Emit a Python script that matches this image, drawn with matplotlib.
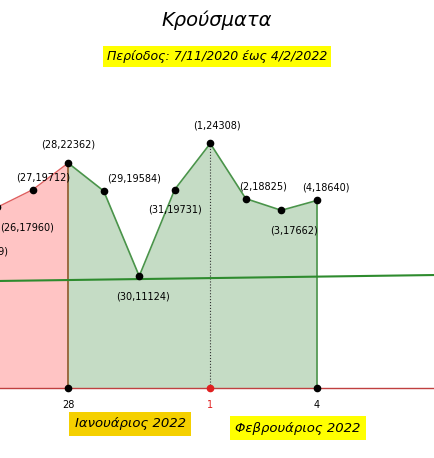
import matplotlib
matplotlib.use("Agg")
import matplotlib.pyplot as plt

days = [25, 26, 27, 28, 29, 30, 31, 32, 33, 34, 35]
labels_day = [25, 26, 27, 28, 29, 30, 31, 1, 2, 3, 4]
cases = [15609, 17960, 19712, 22362, 19584, 11124, 19731, 24308, 18825, 17662, 18640]
trend_x = [26.08, 38.3]
trend_y = [10640, 11230]

fig = plt.figure(figsize=(4.34, 4.58), dpi=100)
ax = fig.add_axes([0, 0, 1, 1])
ax.set_xlim(26.08, 38.3)
ax.set_ylim(-6958, 38569)
ax.axis("off")

red_x = [d for d in days if d <= 28]
red_y = cases[:len(red_x)]
ax.fill_between(red_x, 0, red_y, color="#ffc4c4", lw=0)
ax.plot(red_x, red_y, color="#e06060", lw=1)
gi = days.index(28)
ax.fill_between(days[gi:], 0, cases[gi:], color="#c5dcc5", lw=0)
ax.plot(days[gi:], cases[gi:], color="#4a944a", lw=1.2)
ax.plot([28, 28], [0, 22362], color="#8a5a2a", lw=1.2)
ax.plot([35, 35], [0, 18640], color="#4a944a", lw=1.2)
ax.plot([32, 32], [0, 24308], color="#333333", lw=0.8, ls=":")
ax.plot([26.08, 38.3], [0, 0], color="#c04040", lw=1)
ax.plot(trend_x, trend_y, color="#2e8b2e", lw=1.5)
ax.plot(days, cases, "o", color="black", ms=4.5, clip_on=True)
ax.plot([28, 35], [0, 0], "o", color="black", ms=4.5)
ax.plot([32], [0], "o", color="#e02020", ms=4.5)

offs = {25: (0.55, -2000), 26: (0.85, -2000), 27: (0.3, 1200), 28: (0.0, 1800),
        29: (0.85, 1200), 30: (0.1, -2000), 31: (0.0, -2000), 32: (0.2, 1800),
        33: (0.5, 1200), 34: (0.35, -2000), 35: (0.25, 1300)}
for d, lab, c in zip(days, labels_day, cases):
    dx, dy = offs[d]
    ax.text(d + dx, c + dy, f"({lab},{c})", fontsize=7, ha="center", va="center")

for d, lab, col in [(28, "28", "black"), (32, "1", "#e02020"), (35, "4", "black")]:
    ax.text(d, -1700, lab, fontsize=7, ha="center", va="center", color=col)

fig.text(0.5, 0.955, "Κρούσματα", fontsize=14, style="italic", ha="center", va="center")
fig.text(0.5, 0.877, "Περίοδος: 7/11/2020 έως 4/2/2022", fontsize=9, style="italic",
         ha="center", va="center", bbox=dict(fc="#ffff00", ec="none", pad=3))
fig.text(0.30, 0.075, "Ιανουάριος 2022", fontsize=9.5, style="italic",
         ha="center", va="center", bbox=dict(fc="#f5d000", ec="none", pad=4))
fig.text(0.687, 0.065, "Φεβρουάριος 2022", fontsize=9.5, style="italic",
         ha="center", va="center", bbox=dict(fc="#ffff00", ec="none", pad=4))
fig.savefig("out.png", dpi=100)
